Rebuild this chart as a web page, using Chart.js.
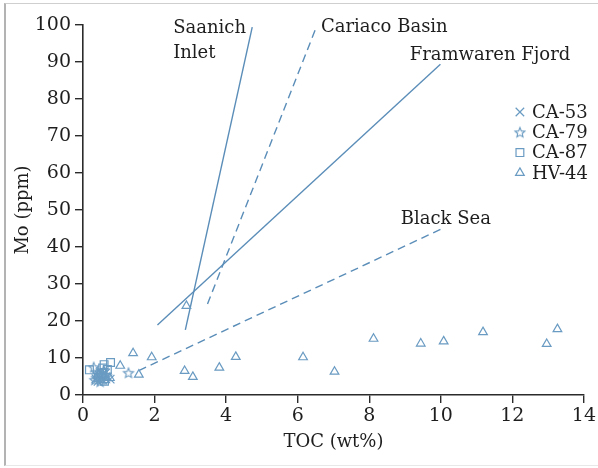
<!DOCTYPE html>
<html>
<head>
<meta charset="utf-8">
<script src="https://cdn.jsdelivr.net/npm/chart.js@4.4.1/dist/chart.umd.min.js"></script>
<style>
  html, body { margin: 0; padding: 0; background: #fff; }
  #wrap { position: relative; width: 598px; height: 468px; }
  #frame {
    position: absolute; left: 4px; top: 3px; width: 594px; height: 463px;
    border-left: 2px solid #b3b3b3; border-top: 1px solid #cfcfcf; border-bottom: 1px solid #e8e8e8;
    box-sizing: border-box; pointer-events: none;
  }
</style>
</head>
<body>
<div id="wrap">
  <canvas id="chart" width="598" height="468"></canvas>
  <div id="frame"></div>
</div>
<script>
// Mo vs TOC : échantillons et droites de référence des bassins anoxiques

// échantillons [TOC, Mo]
const ca53 = [[0.36, 4.4], [0.46, 5.3], [0.55, 4.0], [0.63, 5.9], [0.76, 4.3], [0.50, 6.4], [0.42, 3.7], [0.68, 4.9]];
const ca79 = [[0.30, 7.5], [0.38, 4.6], [0.45, 5.6], [0.52, 4.2], [0.58, 6.7], [0.66, 5.1], [1.27, 6.0], [0.33, 4.1], [0.48, 3.6], [0.40, 6.0]];
const ca87 = [[0.18, 6.8], [0.59, 8.2], [0.77, 8.8], [0.60, 3.7], [0.52, 5.8], [0.68, 6.9], [0.43, 4.8], [0.55, 7.3]];
const hv44 = [[1.40, 11.3], [1.92, 10.2], [1.04, 7.9], [1.56, 5.5], [2.89, 24.1], [2.84, 6.5], [3.07, 4.9],
              [3.81, 7.4], [4.27, 10.3], [6.15, 10.2], [7.03, 6.3], [8.12, 15.2], [9.44, 13.9], [10.08, 14.5],
              [11.18, 17.0], [12.96, 13.8], [13.26, 17.8], [0.75, 4.6], [0.62, 4.0]];

// droites de référence [début, fin]
const saanich = [[2.86, 17.6], [4.73, 99.4]];
const cariaco = [[3.48, 24.6], [6.52, 99.4]];
const framvaren = [[2.08, 18.9], [9.99, 89.4]];
const blackSea = [[1.56, 6.6], [10.09, 45.2]];

const LINE = "#5a8db8";
const MARK = "#6a9bc2";
const INK = "#1e1e1e";
const SERIF = '"DejaVu Serif", serif';

const xy = (arr) => arr.map(([x, y]) => ({ x, y }));

// étoile à cinq branches en contour (pas d'équivalent dans Chart.js)
function starImage(r, color) {
  const c = document.createElement("canvas");
  const s = Math.ceil(r * 2 + 3);
  c.width = c.height = s;
  const g = c.getContext("2d");
  g.strokeStyle = color;
  g.lineWidth = 1.1;
  g.beginPath();
  for (let i = 0; i < 10; i++) {
    const a = -Math.PI / 2 + (i * Math.PI) / 5;
    const rr = i % 2 ? r * 0.45 : r;
    g.lineTo(s / 2 + rr * Math.cos(a), s / 2 + rr * Math.sin(a) + 0.5);
  }
  g.closePath();
  g.stroke();
  return c;
}

function sample(label, data, pointStyle, radius) {
  return {
    label, data: xy(data), pointStyle, pointRadius: radius, pointHoverRadius: radius,
    borderColor: MARK, backgroundColor: "rgba(0,0,0,0)", borderWidth: 1.2,
    showLine: false, inLegend: true,
  };
}

function refLine(data, dashed) {
  return {
    type: "line", data: xy(data), borderColor: LINE, borderWidth: 1.4,
    borderDash: dashed ? [8, 5] : [], pointRadius: 0, fill: false, inLegend: false,
  };
}

// légende des échantillons, dans le coin haut droit
const sampleLegend = {
  id: "sampleLegend",
  afterDraw(chart) {
    const ctx = chart.ctx;
    const x0 = chart.chartArea.right - 64;
    ctx.save();
    chart.data.datasets.filter((d) => d.inLegend).forEach((ds, i) => {
      const y = 112 + i * 20.3;
      ctx.strokeStyle = ds.borderColor;
      ctx.fillStyle = "rgba(0,0,0,0)";
      ctx.lineWidth = ds.borderWidth;
      Chart.helpers.drawPoint(ctx, {
        pointStyle: ds.pointStyle, rotation: 0, radius: ds.pointRadius, borderWidth: ds.borderWidth,
      }, x0, y);
      ctx.fillStyle = INK;
      ctx.font = "18px " + SERIF;
      ctx.textBaseline = "middle";
      ctx.textAlign = "left";
      ctx.fillText(ds.label, x0 + 12, y + 1);
    });
    ctx.restore();
  },
};

// noms des bassins à côté des droites
const lineNames = [
  { text: "Saanich", x: 2.52, y: 97.8 },
  { text: "Inlet", x: 2.52, y: 91.1 },
  { text: "Cariaco Basin", x: 6.65, y: 98.1 },
  { text: "Framwaren Fjord", x: 9.13, y: 90.5 },
  { text: "Black Sea", x: 8.88, y: 46.2 },
];

const nameLabels = {
  id: "nameLabels",
  afterDraw(chart) {
    const { ctx, scales } = chart;
    ctx.save();
    ctx.fillStyle = INK;
    ctx.font = "18px " + SERIF;
    ctx.textBaseline = "alphabetic";
    ctx.textAlign = "left";
    lineNames.forEach((n) => {
      ctx.fillText(n.text, scales.x.getPixelForValue(n.x), scales.y.getPixelForValue(n.y));
    });
    ctx.restore();
  },
};

const axisStyle = {
  border: { display: true, color: "#2b2b2b", width: 1.6 },
  grid: { display: true, drawOnChartArea: false, drawTicks: true, tickLength: 8, color: "#2b2b2b", lineWidth: 1.4 },
};

const font = { family: SERIF, size: 18 };
const tickFont = { family: SERIF, size: 19 };

function draw() {
  new Chart(document.getElementById("chart"), {
    type: "scatter",
    data: {
      datasets: [
        sample("CA-53", ca53, "crossRot", 6),
        sample("CA-79", ca79, starImage(5.2, MARK), 5),
        sample("CA-87", ca87, "rect", 5.5),
        sample("HV-44", hv44, "triangle", 5),
        refLine(saanich, false),
        refLine(cariaco, true),
        refLine(framvaren, false),
        refLine(blackSea, true),
      ],
    },
    options: {
      responsive: false,
      animation: false,
      layout: { padding: { top: 25, right: 13, left: 0, bottom: 0 } },
      plugins: { legend: { display: false }, tooltip: { enabled: false } },
      scales: {
        x: {
          type: "linear", min: 0, max: 14,
          ...axisStyle,
          ticks: { stepSize: 2, color: INK, font: tickFont, padding: 2, maxRotation: 0 },
          title: { display: true, text: "TOC (wt%)", color: INK, font, padding: { top: 0, bottom: 15 } },
          afterFit: (s) => { s.height = 73; },
        },
        y: {
          type: "linear", min: 0, max: 100,
          ...axisStyle,
          ticks: { stepSize: 10, color: INK, font: tickFont, padding: 4 },
          title: { display: true, text: "Mo (ppm)", color: INK, font, padding: { top: 13, bottom: 0 } },
          afterFit: (s) => { s.width = 83; },
        },
      },
    },
    plugins: [sampleLegend, nameLabels],
  });
}

document.fonts.load('18px "DejaVu Serif"').then(draw, draw);
</script>
</body>
</html>
